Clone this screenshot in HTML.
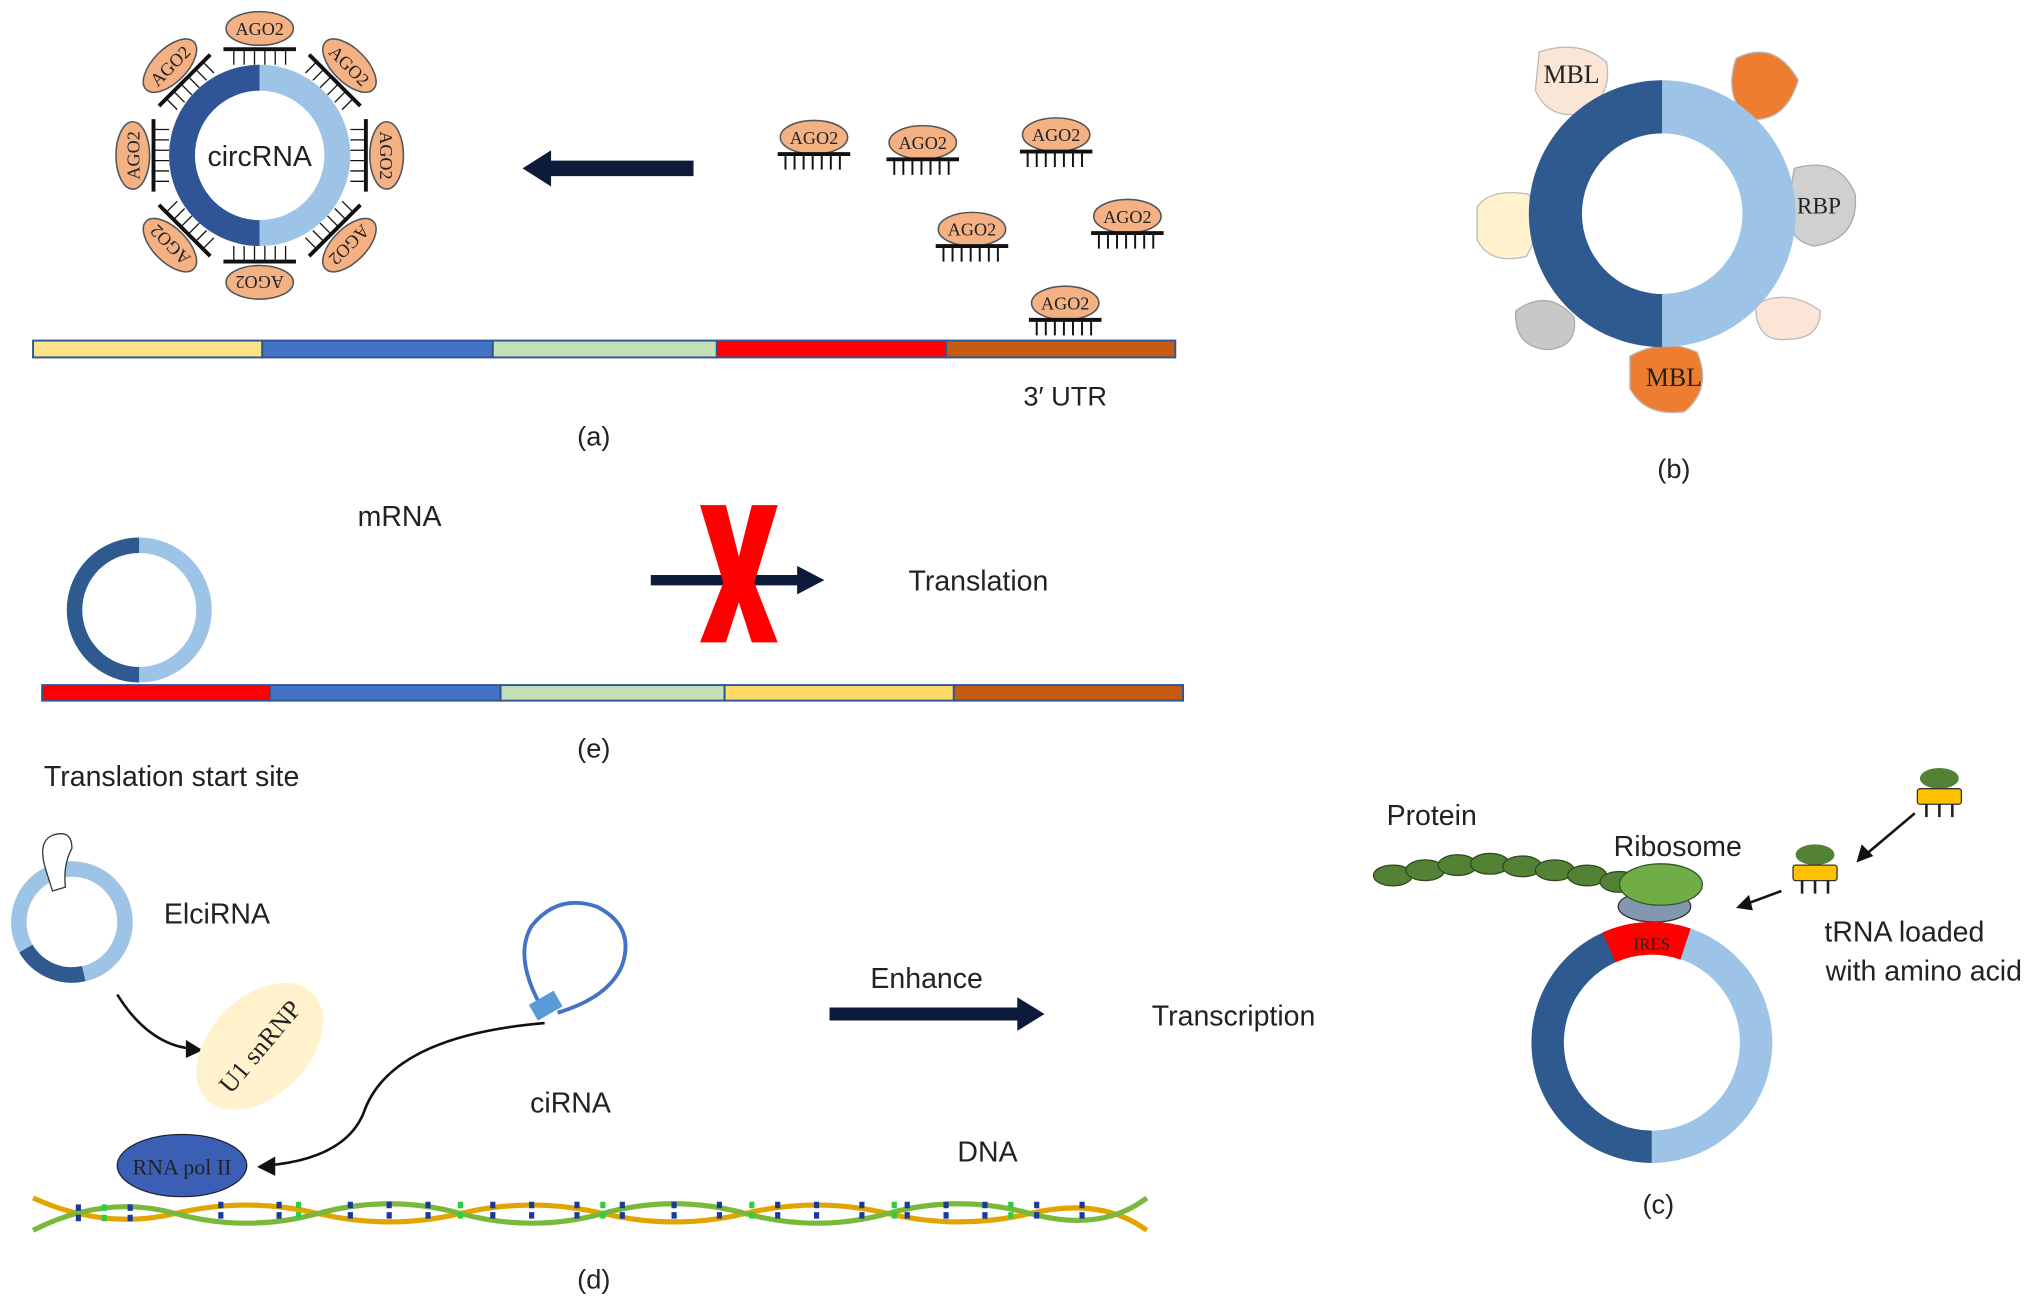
<!DOCTYPE html>
<html><head><meta charset="utf-8"><style>
html,body{margin:0;padding:0;background:#fff}
svg{display:block}
text{font-family:"Liberation Sans",sans-serif;fill:#222}
.s{font-family:"Liberation Serif",serif}
</style></head><body>
<svg width="2032" height="1308" viewBox="0 0 1568 1010" xmlns="http://www.w3.org/2000/svg">
<defs>
<g id="ago">
<ellipse cx="0" cy="0" rx="26" ry="13" fill="#f4b183" stroke="#555" stroke-width="1.2"/>
<text x="0" y="5" font-size="14" text-anchor="middle" class="s">AGO2</text>
</g>
<g id="agof">
<use href="#ago"/>
<line x1="-28" y1="13" x2="28" y2="13" stroke="#111" stroke-width="3"/>
<path d="M-22 13v12M-15 13v12M-8 13v12M-1 13v12M6 13v12M13 13v12M20 13v12" stroke="#111" stroke-width="1.5"/>
</g>
<g id="trna">
<ellipse cx="0" cy="-12" rx="15" ry="8" fill="#548235"/>
<rect x="-17" y="-4" width="34" height="12" rx="2" fill="#ffc000" stroke="#333"/>
<path d="M-10 8v10M0 8v10M10 8v10" stroke="#222" stroke-width="2"/>
</g>
</defs>

<!-- (a) -->
<g>
<g transform="translate(200,120)">
<g>
<line x1="0" y1="-80" x2="0" y2="-80"/>
</g>
<path d="M0,-70 A70,70 0 0,0 0,70 L0,50 A50,50 0 0,1 0,-50Z" fill="#2f5597"/>
<path d="M0,-70 A70,70 0 0,1 0,70 L0,50 A50,50 0 0,0 0,-50Z" fill="#9dc3e6"/>
<g id="spokes" stroke="#111" stroke-width="1.2">
</g>
<g>
<g transform="rotate(0)"><line x1="-28" y1="-82" x2="28" y2="-82" stroke="#111" stroke-width="3"/><path d="M-20 -82v12M-12 -82v12M-4 -82v12M4 -82v12M12 -82v12M20 -82v12" stroke="#111"/><use href="#ago" y="-98"/></g>
<g transform="rotate(45)"><line x1="-28" y1="-82" x2="28" y2="-82" stroke="#111" stroke-width="3"/><path d="M-20 -82v12M-12 -82v12M-4 -82v12M4 -82v12M12 -82v12M20 -82v12" stroke="#111"/><use href="#ago" y="-98"/></g>
<g transform="rotate(90)"><line x1="-28" y1="-82" x2="28" y2="-82" stroke="#111" stroke-width="3"/><path d="M-20 -82v12M-12 -82v12M-4 -82v12M4 -82v12M12 -82v12M20 -82v12" stroke="#111"/><use href="#ago" y="-98"/></g>
<g transform="rotate(135)"><line x1="-28" y1="-82" x2="28" y2="-82" stroke="#111" stroke-width="3"/><path d="M-20 -82v12M-12 -82v12M-4 -82v12M4 -82v12M12 -82v12M20 -82v12" stroke="#111"/><use href="#ago" y="-98"/></g>
<g transform="rotate(180)"><line x1="-28" y1="-82" x2="28" y2="-82" stroke="#111" stroke-width="3"/><path d="M-20 -82v12M-12 -82v12M-4 -82v12M4 -82v12M12 -82v12M20 -82v12" stroke="#111"/><use href="#ago" y="-98"/></g>
<g transform="rotate(225)"><line x1="-28" y1="-82" x2="28" y2="-82" stroke="#111" stroke-width="3"/><path d="M-20 -82v12M-12 -82v12M-4 -82v12M4 -82v12M12 -82v12M20 -82v12" stroke="#111"/><use href="#ago" y="-98"/></g>
<g transform="rotate(270)"><line x1="-28" y1="-82" x2="28" y2="-82" stroke="#111" stroke-width="3"/><path d="M-20 -82v12M-12 -82v12M-4 -82v12M4 -82v12M12 -82v12M20 -82v12" stroke="#111"/><use href="#ago" y="-98"/></g>
<g transform="rotate(315)"><line x1="-28" y1="-82" x2="28" y2="-82" stroke="#111" stroke-width="3"/><path d="M-20 -82v12M-12 -82v12M-4 -82v12M4 -82v12M12 -82v12M20 -82v12" stroke="#111"/><use href="#ago" y="-98"/></g>
</g>
<text x="0" y="8" font-size="22" text-anchor="middle">circRNA</text>
</g>
<path d="M535 124 H425 V116 L403 130 L425 144 V136 H535Z" fill="#0d1b3a"/>
<use href="#agof" x="628" y="106"/>
<use href="#agof" x="712" y="110"/>
<use href="#agof" x="815" y="104"/>
<use href="#agof" x="750" y="177"/>
<use href="#agof" x="870" y="167"/>
<use href="#agof" x="822" y="234"/>
<g stroke="#2f5597" stroke-width="1.5">
<rect x="25" y="263" width="177" height="13" fill="#fce38a"/>
<rect x="202" y="263" width="178" height="13" fill="#4472c4"/>
<rect x="380" y="263" width="173" height="13" fill="#c5e0b4"/>
<rect x="553" y="263" width="177" height="13" fill="#ff0000"/>
<rect x="730" y="263" width="177" height="13" fill="#c55a11"/>
</g>
<text x="822" y="313" font-size="21" text-anchor="middle">3′ UTR</text>
<text x="458" y="344" font-size="21" text-anchor="middle">(a)</text>
</g>

<!-- (b) -->
<g>
<path d="M1188 40 Q1220 30 1240 48 Q1245 75 1220 88 Q1195 92 1185 70Z" fill="#fbe5d6" stroke="#bbb"/>
<text x="1213" y="64" font-size="20" class="s" text-anchor="middle">MBL</text>
<path d="M1340 45 Q1370 30 1388 62 Q1378 95 1350 92 Q1330 75 1340 45Z" fill="#ed7d31" stroke="#bbb"/>
<path d="M1385 130 Q1420 120 1432 150 Q1435 185 1400 190 Q1378 185 1380 160Z" fill="#d0d0d0" stroke="#aaa"/>
<text x="1404" y="165" font-size="18" class="s" text-anchor="middle">RBP</text>
<path d="M1140 160 Q1150 145 1180 150 Q1192 175 1178 198 Q1150 205 1140 185Z" fill="#fff2cc" stroke="#bbb"/>
<path d="M1170 240 Q1195 222 1215 245 Q1218 268 1195 270 Q1168 268 1170 240Z" fill="#c8c8c8" stroke="#aaa"/>
<path d="M1355 235 Q1380 222 1405 240 Q1405 262 1380 262 Q1355 265 1355 235Z" fill="#fbe5d6" stroke="#bbb"/>
<path d="M1258 275 Q1285 260 1310 272 Q1322 300 1300 318 Q1270 322 1258 300Z" fill="#ed7d31" stroke="#bbb"/>
<text x="1292" y="298" font-size="20" class="s" text-anchor="middle">MBL</text>
<g transform="translate(1283,165)">
<path d="M0,-103 A103,103 0 0,0 0,103 L0,62 A62,62 0 0,1 0,-62Z" fill="#2f5a8f"/>
<path d="M0,-103 A103,103 0 0,1 0,103 L0,62 A62,62 0 0,0 0,-62Z" fill="#9dc3e6"/>
</g>
<text x="1292" y="369" font-size="21" text-anchor="middle">(b)</text>
</g>

<!-- (e) -->
<g>
<g transform="translate(107,471)">
<path d="M0,-56 A56,56 0 0,0 0,56 L0,44 A44,44 0 0,1 0,-44Z" fill="#2f5a8f"/>
<path d="M0,-56 A56,56 0 0,1 0,56 L0,44 A44,44 0 0,0 0,-44Z" fill="#9dc3e6"/>
</g>
<text x="308" y="406" font-size="22" text-anchor="middle">mRNA</text>
<path d="M502 444 H615 V437 L636 448 L615 459 V452 H502Z" fill="#0d1b3a"/>
<path d="M540 390 L560 390 L570 430 L580 390 L600 390 L582 450 L600 496 L580 496 L570 465 L560 496 L540 496 L558 450Z" fill="#ff0000"/>
<text x="755" y="456" font-size="22" text-anchor="middle">Translation</text>
<g stroke="#2f5597" stroke-width="1.5">
<rect x="32" y="529" width="176" height="12" fill="#ff0000"/>
<rect x="208" y="529" width="178" height="12" fill="#4472c4"/>
<rect x="386" y="529" width="173" height="12" fill="#c5e0b4"/>
<rect x="559" y="529" width="177" height="12" fill="#ffd966"/>
<rect x="736" y="529" width="177" height="12" fill="#c55a11"/>
</g>
<text x="458" y="585" font-size="21" text-anchor="middle">(e)</text>
<text x="132" y="607" font-size="22" text-anchor="middle">Translation start site</text>
</g>

<!-- (d) -->
<g>
<g transform="translate(55,712)">
<circle r="41" fill="none" stroke="#9dc3e6" stroke-width="12"/>
<path d="M-41,0 A41,41 0 0,0 -12,39" fill="none" stroke="#2f5a8f" stroke-width="12" transform="rotate(-30)"/>
</g>
<path d="M35 672 Q28 650 40 645 Q55 640 55 655 Q48 668 50 685 L40 688Z" fill="#fff" stroke="#333"/>
<text x="167" y="713" font-size="22" text-anchor="middle">ElciRNA</text>
<path d="M90 768 Q115 808 150 810" fill="none" stroke="#111" stroke-width="2"/>
<path d="M143 803 L156 811 L143 817Z" fill="#111"/>
<ellipse cx="200" cy="808" rx="38" ry="58" transform="rotate(45 200 808)" fill="#fff2cc"/>
<text x="200" y="815" font-size="20" class="s" text-anchor="middle" transform="rotate(-50 200 808)">U1 snRNP</text>
<ellipse cx="140" cy="900" rx="50" ry="24" fill="#3c5fb6" stroke="#223"/>
<text x="140" y="907" font-size="17" class="s" text-anchor="middle" fill="#111">RNA pol II</text>
<path d="M420 790 Q300 800 280 860 Q265 895 205 900" fill="none" stroke="#111" stroke-width="2"/>
<path d="M212 893 L198 901 L212 908Z" fill="#111"/>
<path d="M420 782 Q395 740 410 715 Q430 690 460 700 Q490 715 480 745 Q470 770 430 782" fill="none" stroke="#4472c4" stroke-width="3"/>
<rect x="410" y="770" width="22" height="14" fill="#5b9bd5" transform="rotate(-30 420 777)"/>
<text x="440" y="859" font-size="22" text-anchor="middle">ciRNA</text>
<text x="715" y="763" font-size="22" text-anchor="middle">Enhance</text>
<path d="M640 778 H785 V770 L806 783 L785 796 V788 H640Z" fill="#0d1b3a"/>
<text x="952" y="792" font-size="22" text-anchor="middle">Transcription</text>
<text x="762" y="897" font-size="22" text-anchor="middle">DNA</text>
<g fill="none" stroke-width="4">
<path d="M25 925 Q80 950 135 937 T245 937 T355 937 T465 937 T575 937 T685 937 T795 937 T885 950" stroke="#e2a400"/>
<path d="M25 950 Q80 922 135 937 T245 937 T355 937 T465 937 T575 937 T685 937 T795 937 T885 925" stroke="#7ab83a"/>
</g>
<g stroke-width="4">
<path d="M60 930v14M100 930v14M170 928v16M215 928v16M270 928v16M300 928v16M330 928v16M380 928v16M410 928v16M445 928v16M480 928v16M520 928v16M555 928v16M600 928v16M630 928v16M665 928v16M700 928v16M730 928v16M760 928v16M800 928v16M835 928v16" stroke="#1a3a9a" stroke-dasharray="5 3"/>
<path d="M80 930v14M230 928v16M355 928v16M465 928v16M580 928v16M690 928v16M780 928v16" stroke="#2ecc40" stroke-dasharray="5 3"/>
</g>
<text x="458" y="995" font-size="21" text-anchor="middle">(d)</text>
</g>

<!-- (c) -->
<g>
<text x="1105" y="637" font-size="22" text-anchor="middle">Protein</text>
<text x="1295" y="661" font-size="22" text-anchor="middle">Ribosome</text>
<g fill="#548235" stroke="#2d4a1c">
<ellipse cx="1075" cy="676" rx="15" ry="8"/>
<ellipse cx="1100" cy="672" rx="15" ry="8"/>
<ellipse cx="1125" cy="668" rx="15" ry="8"/>
<ellipse cx="1150" cy="667" rx="15" ry="8"/>
<ellipse cx="1175" cy="669" rx="15" ry="8"/>
<ellipse cx="1200" cy="672" rx="15" ry="8"/>
<ellipse cx="1225" cy="676" rx="15" ry="8"/>
<ellipse cx="1250" cy="681" rx="15" ry="8"/>
</g>
<ellipse cx="1277" cy="700" rx="28" ry="12" fill="#8497b0" stroke="#333"/>
<ellipse cx="1282" cy="683" rx="32" ry="16" fill="#70ad47" stroke="#385723"/>
<g transform="translate(1275,805)">
<path d="M0,-93 A93,93 0 0,0 0,93 L0,68 A68,68 0 0,1 0,-68Z" fill="#2f5a8f"/>
<path d="M0,-93 A93,93 0 0,1 0,93 L0,68 A68,68 0 0,0 0,-68Z" fill="#9dc3e6"/>
<path d="M-38,-85 A93,93 0 0,1 30,-88 L22,-64 A68,68 0 0,0 -28,-62Z" fill="#ff0000"/>
<text x="0" y="-72" font-size="13" class="s" text-anchor="middle" fill="#333">IRES</text>
</g>
<use href="#trna" x="1497" y="613"/>
<use href="#trna" x="1401" y="672"/>
<path d="M1478 628 L1440 660" stroke="#111" stroke-width="2"/>
<path d="M1433 666 L1437 652 L1446 661Z" fill="#111"/>
<path d="M1375 688 L1348 698" stroke="#111" stroke-width="2"/>
<path d="M1340 701 L1350 691 L1353 703Z" fill="#111"/>
<text x="1470" y="727" font-size="22" text-anchor="middle">tRNA loaded</text>
<text x="1485" y="757" font-size="22" text-anchor="middle">with amino acid</text>
<text x="1280" y="937" font-size="21" text-anchor="middle">(c)</text>
</g>
</svg>
</body></html>
